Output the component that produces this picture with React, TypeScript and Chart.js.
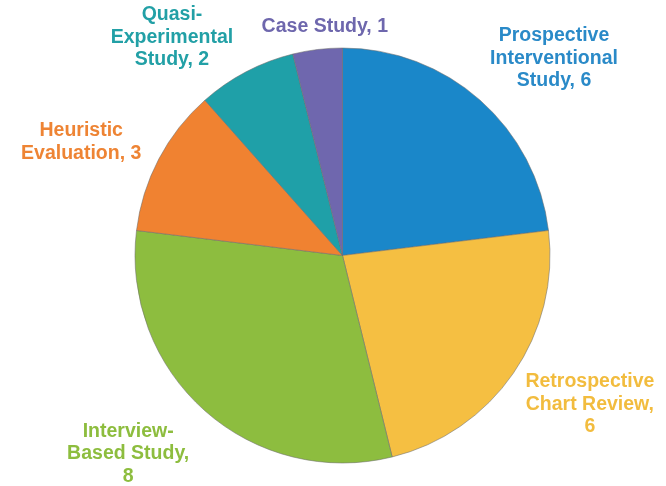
import React, { useEffect, useRef } from "react";
import { Chart, registerables } from "chart.js";

Chart.register(...registerables);

const categories = [
  "Prospective Interventional Study",
  "Retrospective Chart Review",
  "Interview-Based Study",
  "Heuristic Evaluation",
  "Quasi-Experimental Study",
  "Case Study",
];
const values = [6, 6, 8, 3, 2, 1];
const sliceColors = ["#1A87C9", "#F5BF42", "#8DBD3F", "#F08231", "#1FA0A8", "#6F67AE"];
const textColors = ["#2A8AC8", "#F2BC3E", "#8DBD3E", "#EE8434", "#22A0A6", "#6E67AD"];
// words per line for each wrapped label
const lineBreaks = [
  [1, 1, 2],
  [1, 2, 1],
  [1, 2, 1],
  [1, 2],
  [1, 1, 2],
  [3],
];
// label placement relative to slice: distance (in radii) and angle shift from mid-angle (deg)
const labelDist = [1.393, 1.391, 1.407, 1.373, 1.335, 1.104];
const labelShift = [5.5, -3.6, 5.7, -4.2, -10.3, 2.5];

const FONT = "bold 19.5px 'Liberation Sans', Arial, sans-serif";
const LINE_H = 22.5;

function wrap(i: number): string[] {
  const text = `${categories[i]}, ${values[i]}`;
  const words = text.replace(/-/g, "- ").split(/\s+/).filter(Boolean);
  const out: string[] = [];
  let k = 0;
  for (const n of lineBreaks[i]) {
    const seg = words.slice(k, k + n);
    out.push(seg.join(" ").replace(/- /g, "-"));
    k += n;
  }
  return out;
}

const labelPlugin = {
  id: "outerLabels",
  afterDraw(chart: any) {
    const meta = chart.getDatasetMeta(0);
    const ctx = chart.ctx;
    ctx.save();
    ctx.font = FONT;
    ctx.textAlign = "center";
    ctx.textBaseline = "middle";
    meta.data.forEach((arc: any, i: number) => {
      const { x, y, startAngle, endAngle, outerRadius } = arc.getProps(
        ["x", "y", "startAngle", "endAngle", "outerRadius"],
        true
      );
      const mid = (startAngle + endAngle) / 2 + (labelShift[i] * Math.PI) / 180;
      const r = outerRadius * labelDist[i];
      const cx = x + Math.cos(mid) * r;
      const cy = y + Math.sin(mid) * r;
      const lines = wrap(i);
      const top = cy - ((lines.length - 1) * LINE_H) / 2;
      ctx.fillStyle = textColors[i];
      lines.forEach((ln, j) => ctx.fillText(ln, cx, top + j * LINE_H));
    });
    ctx.restore();
  },
};

export default function App() {
  const ref = useRef<HTMLCanvasElement>(null);
  useEffect(() => {
    if (!ref.current) return;
    const chart = new Chart(ref.current, {
      type: "pie",
      data: {
        labels: categories,
        datasets: [
          {
            data: values,
            backgroundColor: sliceColors,
            borderColor: "rgba(110,110,110,0.55)",
            borderWidth: 1,
            hoverOffset: 0,
          },
        ],
      },
      options: {
        responsive: false,
        animation: false,
        radius: 207.5,
        layout: { padding: { left: 19, right: 0, top: 25, bottom: 0 } },
        plugins: {
          legend: { display: false },
          tooltip: { enabled: false },
        },
        events: [],
      } as any,
      plugins: [labelPlugin],
    });
    return () => chart.destroy();
  }, []);
  return (
    <div style={{ position: "fixed", left: 0, top: 0, width: 666, height: 486, background: "#fff" }}>
      <canvas ref={ref} width={666} height={486} />
    </div>
  );
}
